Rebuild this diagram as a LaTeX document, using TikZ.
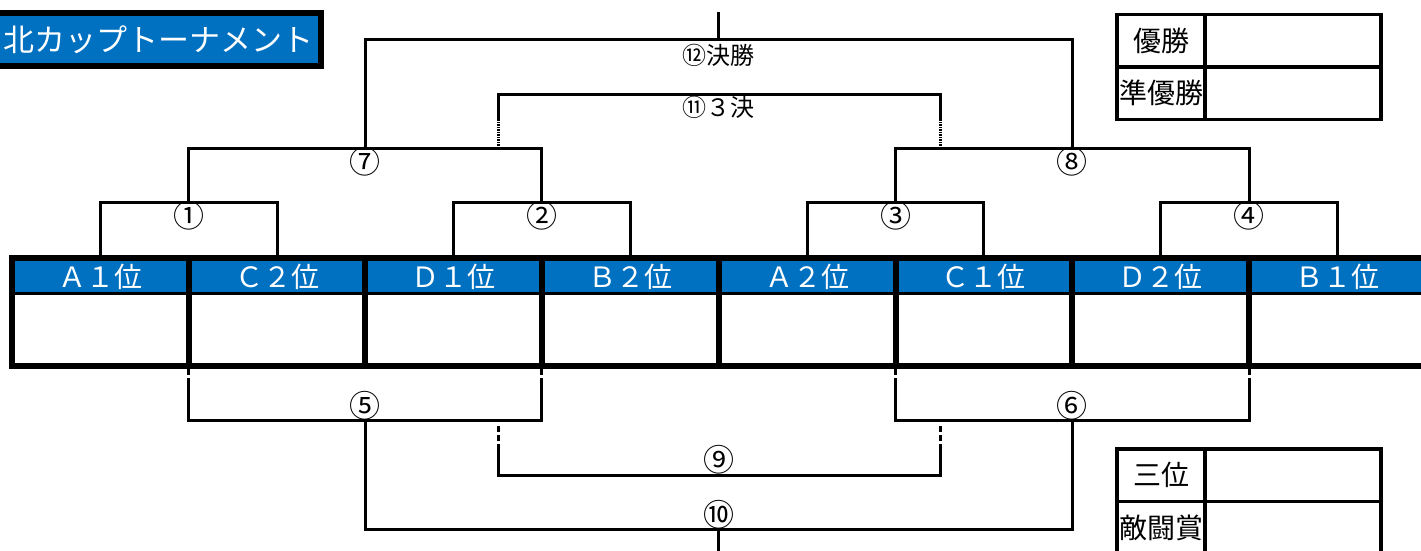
\documentclass[tikz,border=0pt]{standalone}
\usepackage{fontspec}
\setmainfont{Noto Sans CJK JP}
\usepackage{xcolor}
\usepackage{tikz}
\definecolor{teamblue}{RGB}{0,112,192}
\tikzstyle{team} = [rectangle, minimum width=176.7pt, minimum height=108pt, inner sep=0pt, draw=black, line width=6pt, fill=white]
\tikzstyle{head} = [rectangle, minimum width=170.7pt, minimum height=32.5pt, inner sep=0pt, fill=teamblue, text=white, font=\fontsize{28}{28}\selectfont]
\tikzstyle{titlebox} = [rectangle, minimum width=326pt, minimum height=53pt, inner sep=0pt, draw=black, line width=6pt, fill=teamblue, text=white, font=\fontsize{31}{31}\selectfont]
\tikzstyle{prize} = [rectangle, minimum width=88pt, minimum height=52.5pt, inner sep=0pt, outer sep=0pt, draw=black, line width=3.5pt, font=\fontsize{28}{28}\selectfont]
\tikzstyle{blank} = [rectangle, minimum width=176pt, minimum height=52.5pt, inner sep=0pt, outer sep=0pt, draw=black, line width=3.5pt]
\tikzstyle{match} = [inner sep=0pt, font=\fontsize{31}{31}\selectfont]
\tikzstyle{final} = [inner sep=0pt, font=\fontsize{24}{24}\selectfont]
\tikzstyle{bracket} = [line width=3pt]
\tikzstyle{dashbit} = [line width=3pt, dash pattern=on 6pt off 3pt]
\tikzstyle{dotbit} = [line width=3pt, dash pattern=on 1.25pt off 1.25pt]

\begin{document}
\begin{tikzpicture}[x=1pt, y=-1pt, node distance=176.7pt]
	\useasboundingbox (0,0) rectangle (1421,551);
	\node (title) [titlebox] at (158,39.5) {北カップトーナメント};

	% team cells
	\node (t1) [team] at (100.35,312) {};
	\node (t2) [team, right of=t1] {};
	\node (t3) [team, right of=t2] {};
	\node (t4) [team, right of=t3] {};
	\node (t5) [team, right of=t4] {};
	\node (t6) [team, right of=t5] {};
	\node (t7) [team, right of=t6] {};
	\node (t8) [team, right of=t7] {};
	\node (h1) [head] at (100.35,277.25) {Ａ１位};
	\node (h2) [head, right of=h1] {Ｃ２位};
	\node (h3) [head, right of=h2] {Ｄ１位};
	\node (h4) [head, right of=h3] {Ｂ２位};
	\node (h5) [head, right of=h4] {Ａ２位};
	\node (h6) [head, right of=h5] {Ｃ１位};
	\node (h7) [head, right of=h6] {Ｄ２位};
	\node (h8) [head, right of=h7] {Ｂ１位};
	\draw [line width=3pt] (h1.south west) -- (h8.south east);

	% prize tables
	\node (win) [prize] at (1161,40.75) {優勝};
	\node (second) [prize, node distance=52.5pt, below of=win] {準優勝};
	\node (winv) [blank, node distance=132pt, right of=win] {};
	\node (secondv) [blank, node distance=132pt, right of=second] {};
	\node (third) [prize] at (1161,475.25) {三位};
	\node (fight) [prize, node distance=52.5pt, below of=third] {敵闘賞};
	\node (thirdv) [blank, node distance=132pt, right of=third] {};
	\node (fightv) [blank, node distance=132pt, right of=fight] {};

	% junctions
	\coordinate (j1) at (188.7,202);
	\coordinate (j2) at (541.5,202);
	\coordinate (j3) at (895.5,202);
	\coordinate (j4) at (1249,202);
	\coordinate (j7) at (365,148);
	\coordinate (j8) at (1072,148);
	\coordinate (j12) at (718.8,40);
	\coordinate (top) at (718.8,12);
	\coordinate (j11) at (718.8,94);
	\coordinate (s1) at (498,148);
	\coordinate (d1) at (498,121);
	\coordinate (s2) at (940,148);
	\coordinate (d2) at (940,121);
	\coordinate (l1) at (j1 |- t1.south);
	\coordinate (l2) at (j2 |- t3.south);
	\coordinate (l3) at (j3 |- t5.south);
	\coordinate (l4) at (j4 |- t7.south);
	\coordinate (k1) at (188.7,383);
	\coordinate (k2) at (541.5,383);
	\coordinate (k3) at (895.5,383);
	\coordinate (k4) at (1249,383);
	\coordinate (j5) at (365,420);
	\coordinate (j6) at (1072,420);
	\coordinate (u1) at (498,426);
	\coordinate (v1) at (498,448);
	\coordinate (u2) at (940,426);
	\coordinate (v2) at (940,448);
	\coordinate (j9) at (718.8,475);
	\coordinate (j10) at (718.8,529);
	\coordinate (bot) at (718.8,551);

	% upper bracket
	\draw [bracket] (t1.north) |- (j1) -| (t2.north);
	\draw [bracket] (t3.north) |- (j2) -| (t4.north);
	\draw [bracket] (t5.north) |- (j3) -| (t6.north);
	\draw [bracket] (t7.north) |- (j4) -| (t8.north);
	\draw [bracket] (j1) |- (j7) -| (j2);
	\draw [bracket] (j3) |- (j8) -| (j4);
	\draw [bracket] (j7) |- (j12) -| (j8);
	\draw [bracket] (j12) -- (top);
	\draw [dotbit] (s1) -- (d1);
	\draw [bracket] (d1) |- (j11) -| (d2);
	\draw [dotbit] (s2) -- (d2);

	% lower bracket
	\draw [dashbit] (l1) -- (k1);
	\draw [bracket] (k1) |- (j5) -| (k2);
	\draw [dashbit] (l2) -- (k2);
	\draw [dashbit] (l3) -- (k3);
	\draw [bracket] (k3) |- (j6) -| (k4);
	\draw [dashbit] (l4) -- (k4);
	\draw [dashbit] (u1) -- (v1);
	\draw [bracket] (v1) |- (j9) -| (v2);
	\draw [dashbit] (u2) -- (v2);
	\draw [bracket] (j5) |- (j10) -| (j6);
	\draw [bracket] (j10) -- (bot);

	% match labels
	\node (m1) [match, node distance=14pt, below of=j1] {①};
	\node (m2) [match, node distance=14pt, below of=j2] {②};
	\node (m3) [match, node distance=14pt, below of=j3] {③};
	\node (m4) [match, node distance=14pt, below of=j4] {④};
	\node (m7) [match, node distance=14pt, below of=j7] {⑦};
	\node (m8) [match, node distance=14pt, below of=j8] {⑧};
	\node (m12) [final, node distance=15pt, below of=j12] {⑫決勝};
	\node (m11) [final, node distance=13pt, below of=j11] {⑪３決};
	\node (m5) [match, node distance=14pt, above of=j5] {⑤};
	\node (m6) [match, node distance=14pt, above of=j6] {⑥};
	\node (m9) [match, node distance=15pt, above of=j9] {⑨};
	\node (m10) [match, node distance=14pt, above of=j10] {⑩};
\end{tikzpicture}
\end{document}
